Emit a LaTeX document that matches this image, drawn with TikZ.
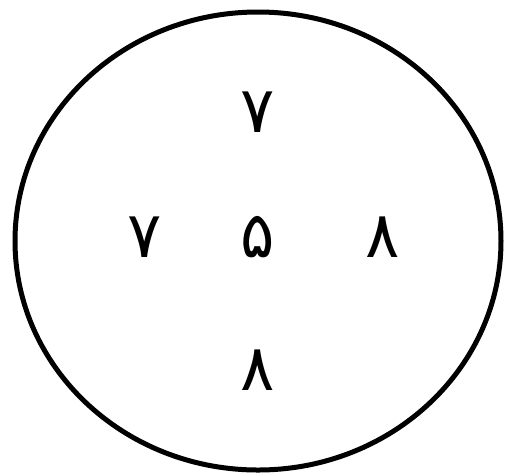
\documentclass[tikz,border=0pt]{standalone}
\usepackage{fontspec}
\newfontfamily\arabicfont[Script=Arabic]{DejaVu Sans}
\usetikzlibrary{positioning}

\begin{document}
\begin{tikzpicture}[
    x=1pt, y=-1pt,
    digit/.style={font=\arabicfont\fontsize{64}{72}\selectfont, inner sep=0pt}
]
\useasboundingbox (0,0) rectangle (514,475);
\draw[line width=5pt] (258,241) ellipse [x radius=243, y radius=229];

\node[digit] (five) at (258,237) {۵};
\node[digit] (up) at (258,112) {۷};
\node[digit] (left) at (145,237) {۷};
\node[digit] (right) at (383,237) {۸};
\node[digit] (down) at (258,370) {۸};
\end{tikzpicture}
\end{document}
